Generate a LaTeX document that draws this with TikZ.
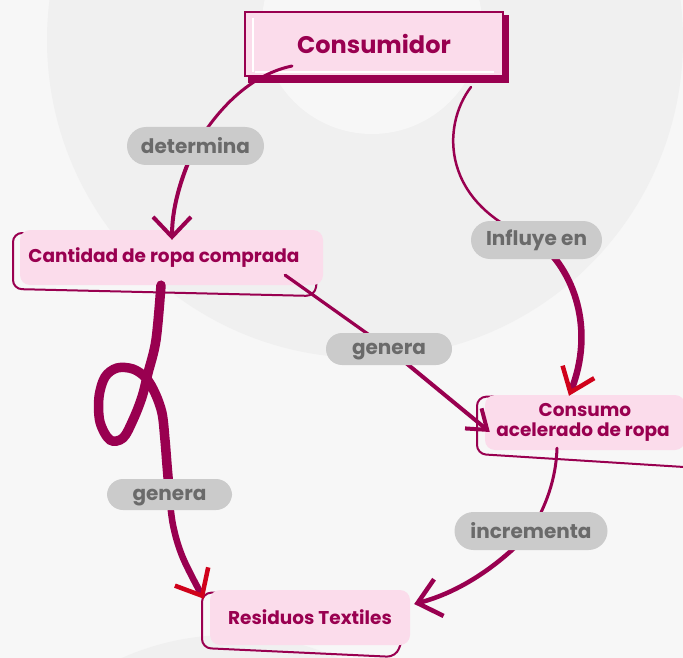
\documentclass[tikz,border=0pt]{standalone}
\usepackage{fontspec}
\setmainfont{Poppins}
\usetikzlibrary{arrows.meta,calc}
\definecolor{mag}{HTML}{990050}
\definecolor{pinkf}{HTML}{FBDCEB}
\definecolor{pillg}{HTML}{CBCBCB}
\definecolor{pillt}{HTML}{6A6A6A}
\definecolor{redh}{HTML}{D0021B}
\definecolor{bgc}{HTML}{F7F7F7}
\definecolor{circ}{HTML}{F0F0F0}
\pgfdeclarelayer{lines}
\pgfdeclarelayer{top}
\pgfsetlayers{main,lines,top}
\begin{document}
\begin{tikzpicture}[x=1pt,y=-1pt,
  consbox/.style={fill=pinkf, draw=mag, line width=2pt, minimum width=258pt, minimum height=64pt, inner sep=0pt, text=mag, font=\bfseries\fontsize{24}{29}\selectfont},
  box/.style={fill=pinkf, rounded corners=10pt, minimum height=55pt, inner sep=0pt, text=mag, font=\bfseries\fontsize{18.5}{20}\selectfont, align=center},
  outl/.style={draw=mag, line width=2pt, rounded corners=9pt},
  pill/.style={fill=pillg, rounded corners=#1, inner sep=0pt, text=pillt, font=\bfseries\fontsize{20}{22}\selectfont},
  conn/.style={draw=mag, line cap=round}
]
% background
\fill[bgc] (0,0) rectangle (683,658);
\begin{scope}
\clip (0,0) rectangle (683,658);
\fill[circ] (365,40) circle[radius=318];
\fill[bgc] (372,24) circle[radius=110];
\fill[circ] (230,900) circle[radius=265];
\end{scope}
\useasboundingbox (0,0) rectangle (683,658);

% offset outlines
\draw[outl] (45,233) -- (13,233) -- (13,289) -- (315,296) -- (318,270);
\draw[outl] (505,396) -- (477,397) -- (477,454) -- (700,468);
\draw[outl] (230,592) -- (202,593) -- (202,648) -- (396,657) -- (402,640);

% nodes
\node[consbox] (cons) at (374,44) {Consumidor};
\fill[mag] (248,75) rectangle (509,83);
\fill[mag] (502,15) rectangle (509,83);
\draw[white, line width=1.5pt] (253,18) -- (253,72);
\draw[white, line width=1.5pt] (255,72) -- (494,72);

\node[box, minimum width=303pt] (cant) at (171.5,257.5) {Cantidad de ropa comprada\hspace*{15pt}};
\node[box, minimum width=200pt] (acel) at (585,422.5) {Consumo\\acelerado de ropa\hspace*{4pt}};
\node[box, minimum width=200pt] (res) at (310,617.5) {Residuos Textiles};

% labels
\begin{pgfonlayer}{top}
\node[pill=19pt, minimum width=137pt, minimum height=38pt] (ldet) at (195.5,146) {determina};
\node[pill=19pt, minimum width=131pt, minimum height=38pt] (linf) at (536.5,240) {Influye en};
\node[pill=16pt, minimum width=126pt, minimum height=32pt, text depth=0pt] (lgen1) at (389,349) {genera};
\node[pill=16pt, minimum width=125pt, minimum height=31pt, text depth=0pt] (lgen2) at (169.5,494.5) {genera};
\node[pill=19pt, minimum width=153pt, minimum height=38pt] (linc) at (531,531) {incrementa};
\end{pgfonlayer}

% connectors
\begin{pgfonlayer}{lines}
\coordinate (s1) at ($(cons.south west)+(48,-11)$);
\coordinate (t1) at ($(cant.north)+(0.5,10)$);
\draw[conn, line width=3pt] (s1) .. controls +(-38,8) and +(26,-43) .. (ldet.center);
\draw[conn, line width=4pt, -{Straight Barb[length=20pt,width=38pt,line width=4pt]}] (ldet.center) .. controls +(-16,34) and +(0,-30) .. (t1);

\coordinate (s2) at ($(cons.south east)+(-33,10)$);
\coordinate (t2) at ($(acel.north)+(-16,1)$);
\draw[conn, line width=2.5pt] (s2) .. controls +(-30,39) and +(-96,-35) .. (linf.center);
\draw[conn, line width=6.5pt, -{Straight Barb[length=22pt,width=34pt,line width=4.5pt,color=redh]}] (linf.center) .. controls +(38.5,30) and +(26,-66) .. (t2);

\coordinate (s3) at ($(cant.south east)+(-38,-10)$);
\coordinate (t3) at ($(acel.west)+(5,9.5)$);
\draw[conn, line width=3.2pt] (s3) -- (lgen1.center);
\draw[conn, line width=4pt, -{Straight Barb[length=18pt,width=26pt,line width=4pt]}] (lgen1.center) -- (t3);

\coordinate (s4) at ($(cant.south)+(-10.5,0)$);
\coordinate (t4) at ($(res.north west)+(-6,9)$);
\draw[conn, line width=9.5pt] plot[smooth, tension=0.55] coordinates {(s4) (156,340) (148,373) (142,397) (133,420) (123,438) (110,440) (100,422) (99,397) (105,377) (117,368) (133,369) (146,378) (155,393) (162,413) (165,440) (167,465) (lgen2.center)};
\draw[conn, line width=6.5pt, -{Straight Barb[length=22pt,width=38pt,line width=4.5pt,color=redh]}] plot[smooth, tension=0.6] coordinates {(lgen2.center) (173,525) (183,558) (t4)};

\coordinate (s5) at ($(acel.south)+(-28,-2)$);
\coordinate (t5) at ($(res.east)+(4,-13.5)$);
\draw[conn, line width=3pt] (s5) .. controls +(-1,31) and +(15,-25) .. (linc.center);
\draw[conn, line width=4.5pt, -{Straight Barb[length=22pt,width=38pt,line width=4.5pt]}] (linc.center) .. controls +(-31,34) and +(46,-12) .. (t5);
\end{pgfonlayer}
\end{tikzpicture}
\end{document}
